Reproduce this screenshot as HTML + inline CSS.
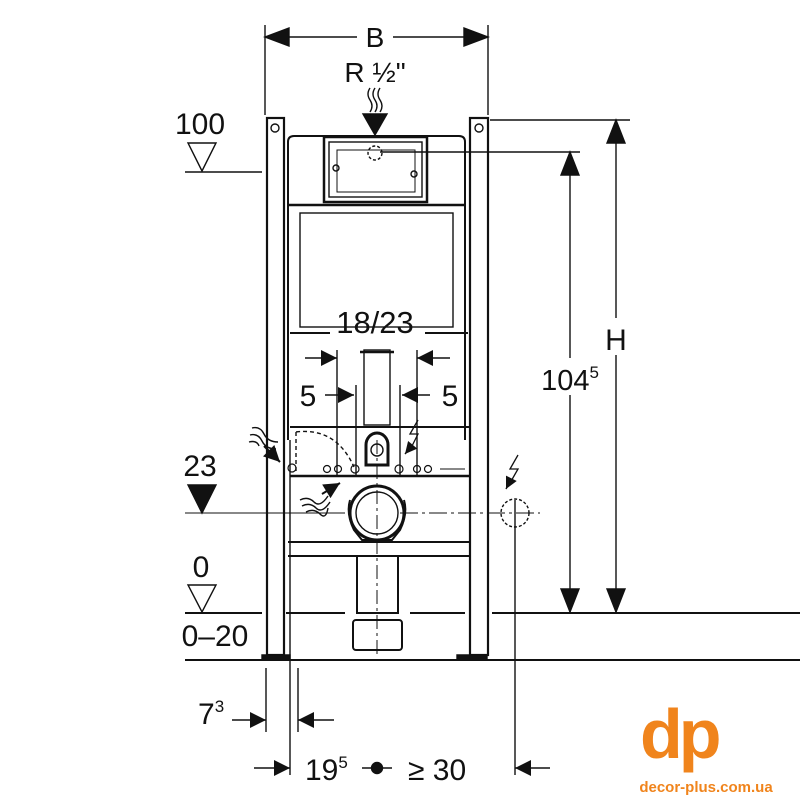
<!DOCTYPE html>
<html><head><meta charset="utf-8"><style>
html,body{margin:0;padding:0;background:#fff;}
svg{display:block;}
text{font-family:"Liberation Sans",Arial,sans-serif;fill:#111;}
</style></head><body>
<svg width="800" height="800" viewBox="0 0 800 800" xmlns="http://www.w3.org/2000/svg">
<defs>
<marker id="ar" viewBox="0 0 10 10" refX="10" refY="5" markerWidth="20" markerHeight="16" orient="auto" markerUnits="userSpaceOnUse"><path d="M0,0 L10,5 L0,10z" fill="#111"/></marker>
<marker id="as" viewBox="0 0 10 10" refX="10" refY="5" markerWidth="14" markerHeight="12" orient="auto" markerUnits="userSpaceOnUse"><path d="M0,0 L10,5 L0,10z" fill="#111"/></marker>
</defs>
<g stroke="#111" fill="none" stroke-width="1.4">
<line x1="265" y1="25" x2="265" y2="115"/>
<line x1="488" y1="25" x2="488" y2="115"/>
<line x1="265" y1="37" x2="357" y2="37"/>
<line x1="393" y1="37" x2="488" y2="37"/>
<path d="M265,37 l24,-9 v18z M488,37 l-24,-9 v18z" fill="#111"/>
<path d="M370,88 q-4,6 0,12 t0,12 M375,88 q-4,6 0,12 t0,12 M380,88 q-4,6 0,12 t0,12"/>
<path d="M363,114 h24 l-12,21z" fill="#111"/>
<rect x="267" y="118" width="17" height="537" stroke-width="2.2"/>
<rect x="470" y="118" width="18" height="537" stroke-width="2.2"/>
<circle cx="275" cy="128" r="4"/><circle cx="479" cy="128" r="4"/>
<path d="M262,655 h28 v5 h-28z M457,655 h30 v5 h-30z" fill="#111"/>
<path d="M288,205 V142 q0,-6 6,-6 H459 q6,0 6,6 V205" stroke-width="2"/>
<line x1="288" y1="205" x2="465" y2="205" stroke-width="2.5"/>
<rect x="324" y="137" width="103" height="65" stroke-width="2.5"/>
<rect x="329" y="142" width="93" height="55"/>
<rect x="337" y="150" width="78" height="42" stroke-width="1"/>
<circle cx="375" cy="153" r="7" stroke-dasharray="3,2"/>
<circle cx="336" cy="168" r="3"/><circle cx="414" cy="174" r="3"/>
<line x1="288" y1="205" x2="288" y2="440" stroke-width="2"/>
<line x1="465" y1="205" x2="465" y2="440" stroke-width="2"/>
<rect x="300" y="213" width="153" height="114"/>
<line x1="290" y1="333" x2="330" y2="333" stroke-width="2"/>
<line x1="425" y1="333" x2="468" y2="333" stroke-width="2"/>
<line x1="380" y1="152" x2="580" y2="152"/>
<line x1="490" y1="120" x2="630" y2="120"/>
<line x1="337" y1="350" x2="337" y2="476"/>
<line x1="417" y1="350" x2="417" y2="476"/>
<line x1="356" y1="385" x2="356" y2="476"/>
<line x1="400" y1="385" x2="400" y2="476"/>
<line x1="305" y1="358" x2="337" y2="358" marker-end="url(#ar)"/>
<line x1="450" y1="358" x2="417" y2="358" marker-end="url(#ar)"/>
<line x1="325" y1="395" x2="354" y2="395" marker-end="url(#ar)"/>
<line x1="430" y1="395" x2="402" y2="395" marker-end="url(#ar)"/>
<rect x="364" y="350" width="26" height="75"/>
<line x1="360" y1="352" x2="394" y2="352" stroke-width="2.5"/>
<line x1="290" y1="427" x2="470" y2="427" stroke-width="2"/>
<line x1="290" y1="476" x2="470" y2="476" stroke-width="2.5"/>
<path d="M296,432 v40 M296,432 q40,-5 58,35" stroke-dasharray="4,3"/>
<path d="M366,465 v-20 a11,12 0 0 1 22,0 v20z" stroke-width="3"/>
<circle cx="377" cy="450" r="6"/>
<g stroke-width="1.2"><circle cx="292" cy="468" r="4"/><circle cx="327" cy="469" r="3.5"/><circle cx="338" cy="469" r="3.5"/><circle cx="355" cy="469" r="4"/><circle cx="399" cy="469" r="4"/><circle cx="417" cy="469" r="3.5"/><circle cx="428" cy="469" r="3.5"/></g>
<line x1="440" y1="469" x2="465" y2="469" stroke-width="1"/>
<path d="M252,428 q8,-2 12,6 t14,8 M250,435 q8,-2 12,6 t14,8 M249,442 q8,-2 10,4"/>
<path d="M264,446 l16,16" marker-end="url(#ar)" stroke-width="2"/>
<path d="M300,500 q8,-4 14,2 t14,-6 M302,506 q8,-4 14,2 t14,-6 M306,512 q8,-4 14,2 t8,-6"/>
<path d="M322,494 l18,-11" marker-end="url(#ar)" stroke-width="2"/>
<path d="M418,420 l-8,14 h8 l-8,16" stroke-width="1.3"/>
<path d="M410,448 l-5,6" marker-end="url(#as)"/>
<path d="M518,455 l-8,14 h8 l-8,14" stroke-width="1.3"/>
<path d="M510,481 l-4,8" marker-end="url(#as)"/>
<circle cx="377" cy="513" r="27" stroke-width="3"/>
<circle cx="377" cy="513" r="21"/>
<path d="M350,500 q-4,14 4,30 l8,10 h30 l8,-10 q8,-16 4,-30" stroke-width="2"/>
<line x1="185" y1="513" x2="345" y2="513" stroke-width="1"/>
<line x1="400" y1="513" x2="540" y2="513" stroke-width="1" stroke-dasharray="18,4,3,4"/>
<line x1="377" y1="440" x2="377" y2="655" stroke-width="1" stroke-dasharray="14,4,3,4"/>
<circle cx="515" cy="513" r="14" stroke-dasharray="3,2"/>
<line x1="515" y1="500" x2="515" y2="775"/>
<line x1="290" y1="440" x2="290" y2="775"/>
<line x1="288" y1="542" x2="470" y2="542" stroke-width="2"/>
<line x1="288" y1="556" x2="470" y2="556" stroke-width="2"/>
<rect x="357" y="556" width="41" height="57" stroke-width="2"/>
<rect x="353" y="620" width="49" height="30" rx="3" stroke-width="2"/>
<path d="M185,613 H262 M286,613 H345 M410,613 H465 M492,613 H800" stroke-width="2"/>
<line x1="185" y1="660" x2="800" y2="660" stroke-width="2"/>
<line x1="185" y1="172" x2="262" y2="172"/>
<path d="M188,143 h28 l-14,28z"/>
<path d="M188,485 h28 l-14,28z" fill="#111"/>
<path d="M188,585 h28 l-14,27z"/>
<line x1="616" y1="120" x2="616" y2="318"/>
<line x1="616" y1="355" x2="616" y2="612"/>
<path d="M616,120 l-9,23 h18z M616,612 l-9,-23 h18z" fill="#111"/>
<line x1="570" y1="152" x2="570" y2="358"/>
<line x1="570" y1="395" x2="570" y2="612"/>
<path d="M570,152 l-9,23 h18z M570,612 l-9,-23 h18z" fill="#111"/>
<line x1="266" y1="668" x2="266" y2="732"/>
<line x1="298" y1="668" x2="298" y2="732"/>
<line x1="232" y1="720" x2="266" y2="720" marker-end="url(#ar)"/>
<line x1="334" y1="720" x2="298" y2="720" marker-end="url(#ar)"/>
<line x1="254" y1="768" x2="290" y2="768" marker-end="url(#ar)"/>
<line x1="550" y1="768" x2="515" y2="768" marker-end="url(#ar)"/>
<line x1="362" y1="768" x2="392" y2="768"/>
<circle cx="377" cy="768" r="5.5" fill="#111"/>
</g>
<text x="375" y="47" font-size="28" text-anchor="middle">B</text>
<text x="375" y="82" font-size="28" text-anchor="middle">R ½"</text>
<text x="375" y="333" font-size="31" text-anchor="middle">18/23</text>
<text x="308" y="406" font-size="30" text-anchor="middle">5</text>
<text x="450" y="406" font-size="30" text-anchor="middle">5</text>
<text x="200" y="134" font-size="30" text-anchor="middle">100</text>
<text x="200" y="476" font-size="30" text-anchor="middle">23</text>
<text x="201" y="577" font-size="30" text-anchor="middle">0</text>
<text x="215" y="646" font-size="30" text-anchor="middle">0–20</text>
<text x="616" y="350" font-size="30" text-anchor="middle">H</text>
<text x="570" y="390" font-size="29" text-anchor="middle">104<tspan font-size="17" dy="-12">5</tspan></text>
<text x="198" y="724" font-size="30">7<tspan font-size="17" dy="-12">3</tspan></text>
<text x="305" y="780" font-size="30">19<tspan font-size="17" dy="-12">5</tspan></text>
<text x="408" y="780" font-size="30">≥ 30</text>
<text x="640" y="758" font-size="70" font-weight="bold" style="fill:#f0841c" letter-spacing="-4">dp</text>
<text x="706" y="792" font-size="15" font-weight="bold" text-anchor="middle" style="fill:#f0841c">decor-plus.com.ua</text>
</svg>
</body></html>
